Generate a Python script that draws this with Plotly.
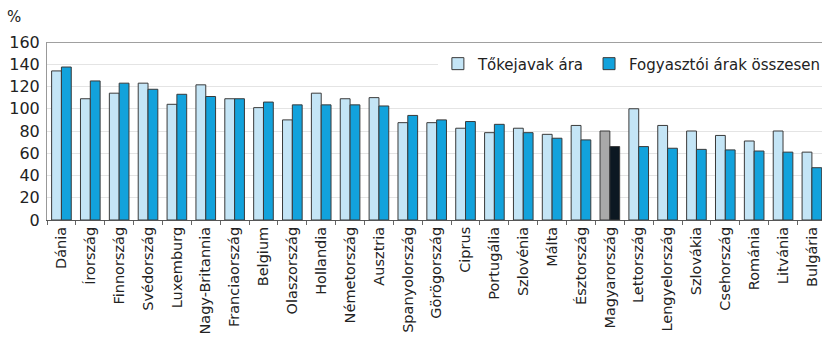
import plotly.graph_objects as go

countries = ["Dánia", "Írország", "Finnország", "Svédország", "Luxemburg", "Nagy-Britannia",
             "Franciaország", "Belgium", "Olaszország", "Hollandia", "Németország", "Ausztria",
             "Spanyolország", "Görögország", "Ciprus", "Portugália", "Szlovénia", "Málta",
             "Észtország", "Magyarország", "Lettország", "Lengyelország", "Szlovákia",
             "Csehország", "Románia", "Litvánia", "Bulgária"]
tokejavak = [134, 109, 114, 123, 104, 121.5, 109, 101, 90, 114, 109, 110,
             87.5, 87.5, 82.5, 78.5, 82.5, 77, 85, 80, 100, 85, 80, 76, 71, 80, 61]
fogyasztoi = [137.5, 125, 123, 117.5, 113, 111, 109, 106, 103.5, 103.5, 103.5, 102.5,
              94, 90, 88.5, 86, 78.5, 73.5, 72, 66, 66, 64.5, 63.5, 63, 62, 61, 47]
y_ticks = [0, 20, 40, 60, 80, 100, 120, 140, 160]

highlight = "Magyarország"
light_colors = ["#a9a9a9" if c == highlight else "#c4e5f6" for c in countries]
dark_colors = ["#0c1822" if c == highlight else "#12a2dc" for c in countries]

FONT = "DejaVu Sans, Liberation Sans, Arial, sans-serif"

fig = go.Figure()
fig.add_trace(go.Bar(x=countries, y=tokejavak, name="Tőkejavak ára",
                     marker=dict(color=light_colors, line=dict(color="#3a3a3a", width=1))))
fig.add_trace(go.Bar(x=countries, y=fogyasztoi, name="Fogyasztói árak összesen",
                     marker=dict(color=dark_colors, line=dict(color="#3a3a3a", width=1))))

fig.update_layout(
    width=826, height=354,
    margin=dict(l=47, r=0, t=42, b=134),
    paper_bgcolor="white", plot_bgcolor="white",
    barmode="group", bargap=0.32, bargroupgap=0,
    font=dict(family=FONT, color="#222"),
    showlegend=True,
    legend=dict(orientation="h", x=1.005, xanchor="right", y=0.877, yanchor="middle",
                bgcolor="white", font=dict(size=15, color="#222"),
                itemwidth=30, tracegroupgap=0, traceorder="normal"),
    xaxis=dict(type="category", range=[-0.5, 26.35], tickangle=-90,
               tickfont=dict(size=14.5, color="#222"),
               ticks="outside", tickson="boundaries", ticklen=4, tickcolor="#666",
               showline=True, linecolor="#555", linewidth=1, showgrid=False),
    yaxis=dict(range=[0, 160], tickvals=y_ticks, tickfont=dict(size=16, color="#222"),
               showgrid=True, gridcolor="#e4e4e4", gridwidth=1, zeroline=False,
               showline=True, linecolor="#999", linewidth=1,
               ticks="", ticklabelstandoff=3),
    annotations=[dict(text="%", xref="paper", yref="paper", x=-0.043, y=1.08,
                      xanchor="center", yanchor="bottom", showarrow=False,
                      font=dict(size=15, color="#222"))],
    shapes=[dict(type="line", xref="paper", yref="y", x0=0, x1=1, y0=160, y1=160,
                 line=dict(color="#a0a0a0", width=2))],
)

fig.write_html("out.html")
